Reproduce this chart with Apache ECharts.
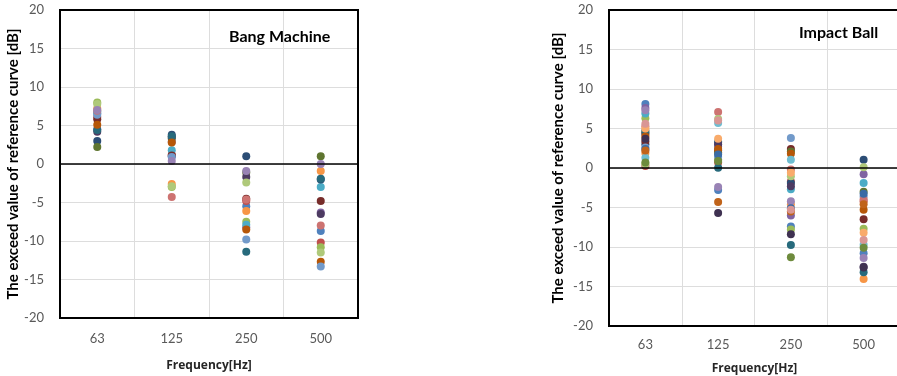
<!DOCTYPE html>
<html>
<head>
  <meta charset="UTF-8">
  <script src="https://cdn.jsdelivr.net/npm/echarts@6/dist/echarts.min.js"></script>
  <style>
    html, body { margin: 0; padding: 0; background: #fff; }
    #mychart { width: 897px; height: 376px; }
  </style>
</head>
<body>
  <div id="mychart"></div>
  <script type="text/javascript">
    // frequency bands
    var categories = ['63', '125', '250', '500'];

    // Office palette, one colour per series
    var palette = [
      '#4F81BD', '#C0504D', '#9BBB59', '#8064A2', '#4BACC6', '#F79646',
      '#2C4D75', '#772C2A', '#5F7530', '#4D3B62', '#276A7C', '#B65708',
      '#729ACA', '#CD7371', '#AFC97A', '#9983B5', '#6FBDD1', '#F9AB6B',
      '#3A6BA5', '#C0631A', '#3F3151', '#D99694', '#6E8B3D'
    ];

    // Bang Machine: each row = one measurement at 63 / 125 / 250 / 500 Hz
    var bangSeries = [
      [6.6, 1.0, -5.5, -8.7],
      [6.1, 1.2, -4.8, -10.2],
      [8.0, -3.0, -7.5, -10.8],
      [4.5, 2.9, -8.2, -6.3],
      [6.8, 1.8, -7.9, -3.0],
      [7.2, -2.6, -6.1, -0.9],
      [3.0, 3.8, 1.0, -2.0],
      [5.8, 1.1, -4.5, -4.8],
      [2.2, 3.3, -1.1, 1.0],
      [4.2, 3.5, -1.7, -6.5],
      [4.4, 3.6, -11.4, -1.9],
      [5.1, 2.8, -8.5, -12.7],
      [6.4, 0.9, -9.8, -13.3],
      [6.9, -4.3, -4.6, -8.0],
      [7.8, -2.9, -2.4, -11.5],
      [7.0, 0.4, -0.9, 0.0]
    ];

    // Impact Ball
    var impactSeries = [
      [8.1, -2.8, -7.4, -10.8],
      [0.25, 0.7, -1.7, -4.2],
      [6.3, 1.1, -7.8, -7.7],
      [7.6, 2.7, -6.0, -0.8],
      [6.9, 3.4, -2.7, -1.9],
      [1.9, 2.0, -4.6, -14.05],
      [3.0, 3.2, -1.9, 1.05],
      [3.4, 2.2, 2.4, -6.5],
      [4.5, 1.9, 2.1, -3.0],
      [4.3, 3.0, -2.3, -12.5],
      [4.7, 0.04, -9.75, -13.2],
      [4.0, 2.4, 1.8, -5.3],
      [2.6, 1.4, 3.8, -3.6],
      [5.3, 7.1, -0.2, -4.0],
      [0.5, 6.2, -1.05, 0.1],
      [7.3, -2.4, -4.2, -11.4],
      [1.3, 5.7, 1.05, -9.7],
      [5.0, 3.7, -0.6, -8.2],
      [2.4, 1.7, -5.1, -3.25],
      [2.2, -4.3, -5.5, -4.6],
      [3.7, -5.7, -8.4, -12.6],
      [5.6, 6.0, -5.3, -9.1],
      [0.7, 0.9, -11.3, -10.1]
    ];

    var chartTitles = ['Bang Machine', 'Impact Ball'];
    var yName = 'The exceed value of reference curve [dB]';
    var xName = 'Frequency[Hz]';

    var font = 'Lato, "Open Sans", sans-serif';

    function makeSeries(rows, idx) {
      var list = rows.map(function (vals, i) {
        return {
          type: 'scatter',
          xAxisIndex: idx,
          yAxisIndex: idx,
          data: vals,
          symbolSize: 8,
          itemStyle: { color: palette[i % palette.length], opacity: 1 },
          silent: true
        };
      });
      // zero line
      list[0].markLine = {
        silent: true,
        symbol: 'none',
        label: { show: false },
        lineStyle: { color: '#000', width: 1.5, type: 'solid' },
        data: [{ yAxis: 0 }]
      };
      return list;
    }

    function makeXAxis(idx, labelMargin, nameGap) {
      return {
        type: 'category',
        gridIndex: idx,
        data: categories,
        boundaryGap: true,
        axisLine: { show: true, onZero: false, lineStyle: { color: '#000', width: 2 } },
        axisTick: { show: false },
        axisLabel: { color: '#595959', fontSize: 13, fontFamily: font, margin: labelMargin },
        splitLine: { show: true, interval: 0, lineStyle: { color: '#DDDDDD', width: 1 } },
        name: xName,
        nameLocation: 'middle',
        nameGap: nameGap,
        nameTextStyle: { color: '#262626', fontSize: 12, fontWeight: 'bold', fontFamily: '"Open Sans", sans-serif' }
      };
    }

    function makeYAxis(idx, nameGap) {
      return {
        type: 'value',
        gridIndex: idx,
        min: -20,
        max: 20,
        interval: 5,
        axisLine: { show: true, lineStyle: { color: '#000', width: 2 } },
        axisTick: { show: false },
        axisLabel: { color: '#595959', fontSize: 13, fontFamily: font, margin: 16 },
        splitLine: { show: true, lineStyle: { color: '#DDDDDD', width: 1 } },
        name: yName,
        nameLocation: 'middle',
        nameRotate: 90,
        nameGap: nameGap,
        nameTextStyle: { color: '#000', fontSize: 15, fontWeight: 'bold', fontFamily: font }
      };
    }

    var myChart = echarts.init(document.getElementById('mychart'));

    myChart.setOption({
      animation: false,
      backgroundColor: '#fff',
      title: [
        {
          text: chartTitles[0], left: 229, top: 29, padding: 0,
          textStyle: { fontSize: 16, fontWeight: 'bold', color: '#000', fontFamily: font }
        },
        {
          text: chartTitles[1], left: 799, top: 25, padding: 0,
          textStyle: { fontSize: 16, fontWeight: 'bold', color: '#000', fontFamily: font }
        }
      ],
      grid: [
        { left: 60, top: 10, width: 298, height: 308, outerBoundsMode: 'none', show: true, z: 10, borderColor: '#000', borderWidth: 2, backgroundColor: 'transparent' },
        { left: 609, top: 10, width: 291, height: 316, outerBoundsMode: 'none', show: true, z: 10, borderColor: '#000', borderWidth: 2, backgroundColor: 'transparent' }
      ],
      xAxis: [makeXAxis(0, 14, 42), makeXAxis(1, 12, 37)],
      yAxis: [makeYAxis(0, 37), makeYAxis(1, 43)],
      series: makeSeries(bangSeries, 0).concat(makeSeries(impactSeries, 1))
    });
  </script>
</body>
</html>
